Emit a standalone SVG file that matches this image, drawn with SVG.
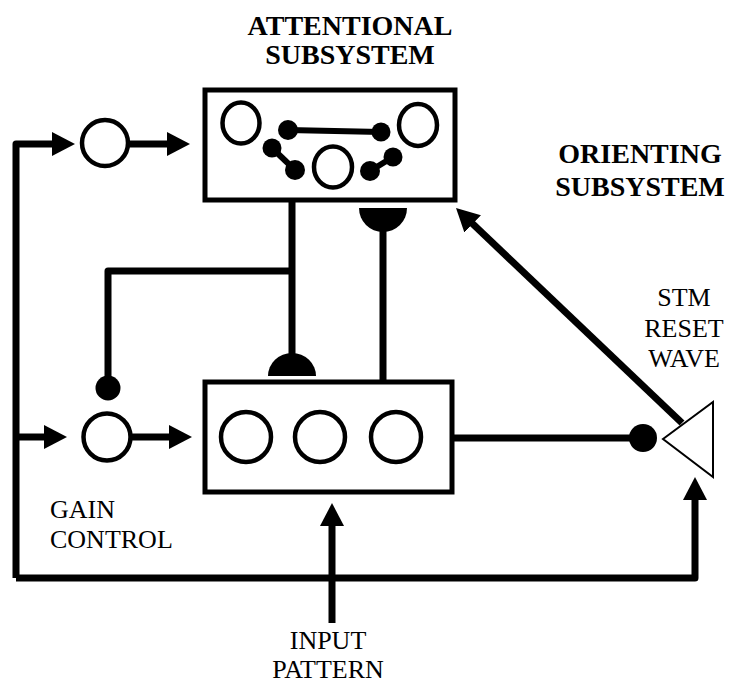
<svg xmlns="http://www.w3.org/2000/svg" width="732" height="684" viewBox="0 0 732 684">
  <style>
    .title { font-family: "Liberation Serif", "Times New Roman", serif; font-weight: bold; font-size: 28px; fill: #000; text-anchor: middle; }
    .label { font-family: "Liberation Serif", "Times New Roman", serif; font-size: 26px; fill: #000; }
    .box { fill: #fff; stroke: #000; stroke-width: 5; }
    .cell { fill: none; stroke: #000; stroke-width: 4.5; }
    .dot { fill: #000; }
    .wire { fill: none; stroke: #000; stroke-width: 7; stroke-linejoin: round; }
    .link { fill: none; stroke: #000; stroke-width: 6; }
    .arrow { fill: none; stroke: #000; stroke-width: 7; stroke-linejoin: round; marker-end: url(#head); }
  </style>
  <defs>
    <marker id="head" viewBox="0 0 23 24" refX="3" refY="12" markerWidth="23" markerHeight="24" markerUnits="userSpaceOnUse" orient="auto">
      <path d="M0,0 L23,12 L0,24 Z" fill="#000"/>
    </marker>
  </defs>

  <rect width="732" height="684" fill="#fff"/>

  <!-- headings -->
  <g id="attentional-title">
    <text class="title" x="350" y="35">ATTENTIONAL</text>
    <text class="title" x="350" y="64">SUBSYSTEM</text>
  </g>
  <g id="orienting-title">
    <text class="title" x="640" y="163">ORIENTING</text>
    <text class="title" x="640" y="196">SUBSYSTEM</text>
  </g>

  <!-- connectors -->
  <g id="connectors">
    <!-- outer feedback loop -->
    <path class="arrow" d="M16,578 V144 H55"/>
    <path class="arrow" d="M16,578 H695 V497"/>
    <path class="arrow" d="M16,437 H47"/>
    <!-- gain nodes into the layers -->
    <path class="arrow" d="M128,144 H170"/>
    <path class="arrow" d="M132,437 H172"/>
    <!-- input pattern -->
    <path class="arrow" d="M332,623 V523"/>
    <!-- reset wave to attentional layer -->
    <path class="arrow" d="M682,423 L470.5,221.8"/>
    <!-- top-down path and inhibitory tap to gain control -->
    <path class="wire" d="M292,200 V376"/>
    <path class="wire" d="M108,388 V271 H292"/>
    <path d="M268,376 A24,23 0 0 1 316,376 Z" fill="#000"/>
    <circle class="dot" cx="108" cy="388" r="12.5"/>
    <!-- bottom-up path -->
    <path class="wire" d="M383,382 V228"/>
    <path d="M359,208 A24,24 0 0 0 407,208 Z" fill="#000"/>
    <!-- lower layer to orienting node -->
    <path class="wire" d="M452,438 H643"/>
    <circle class="dot" cx="643" cy="438" r="14"/>
  </g>

  <!-- nodes -->
  <g id="gain-top">
    <circle class="cell" cx="105" cy="143" r="23"/>
  </g>
  <g id="gain-control">
    <circle class="cell" cx="107" cy="437" r="23.5"/>
  </g>

  <g id="attentional-layer">
    <rect class="box" x="205" y="90" width="250" height="110"/>
    <ellipse class="cell" cx="241" cy="123" rx="18.5" ry="20.5"/>
    <ellipse class="cell" cx="418" cy="125" rx="19" ry="21"/>
    <ellipse class="cell" cx="333" cy="167" rx="19" ry="20.5"/>
    <line class="link" x1="288" y1="130" x2="381" y2="132"/>
    <line class="link" x1="272" y1="148" x2="295" y2="170"/>
    <line class="link" x1="370" y1="171" x2="393" y2="157"/>
    <circle class="dot" cx="288" cy="130" r="10"/>
    <circle class="dot" cx="381" cy="132" r="9.5"/>
    <circle class="dot" cx="272" cy="148" r="9.5"/>
    <circle class="dot" cx="295" cy="170" r="10"/>
    <circle class="dot" cx="370" cy="171" r="10"/>
    <circle class="dot" cx="393" cy="157" r="9.5"/>
  </g>

  <g id="feature-layer">
    <rect class="box" x="205" y="382" width="247" height="110"/>
    <circle class="cell" cx="246" cy="437" r="25"/>
    <circle class="cell" cx="320" cy="437" r="25"/>
    <circle class="cell" cx="396" cy="437" r="25"/>
  </g>

  <g id="reset-node">
    <path d="M663,439 L713,402 L713,477 Z" fill="#fff" stroke="#000" stroke-width="2"/>
  </g>

  <!-- labels -->
  <g id="stm-label">
    <text class="label" x="684" y="306" text-anchor="middle">STM</text>
    <text class="label" x="684" y="337" text-anchor="middle">RESET</text>
    <text class="label" x="684" y="367" text-anchor="middle">WAVE</text>
  </g>
  <g id="gain-label">
    <text class="label" x="50" y="518">GAIN</text>
    <text class="label" x="50" y="548">CONTROL</text>
  </g>
  <g id="input-label">
    <text class="label" x="328" y="649" text-anchor="middle">INPUT</text>
    <text class="label" x="328" y="678" text-anchor="middle">PATTERN</text>
  </g>
</svg>
